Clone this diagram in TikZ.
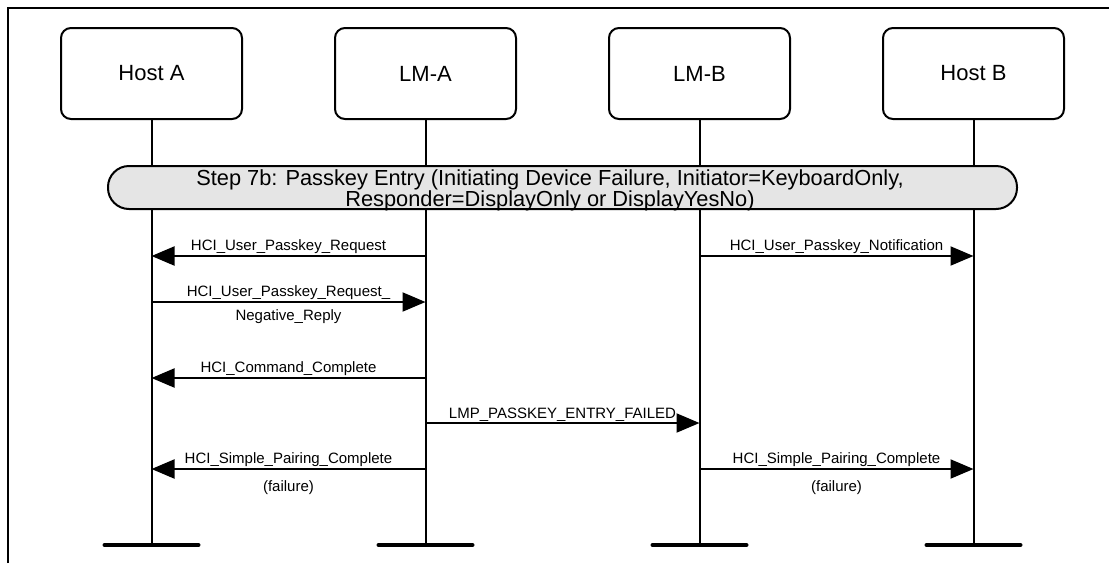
\documentclass[tikz,border=0pt]{standalone}
\usepackage{fontspec}
\setmainfont{Liberation Sans}
\usetikzlibrary{arrows.meta, positioning}

\begin{document}
\begin{tikzpicture}[
  x=1pt, y=-1pt,
  node distance=1cm and 91pt,
  box/.style={rectangle, draw=black, line width=2pt, rounded corners=10pt, minimum width=181pt, minimum height=91pt, font=\fontsize{22}{26}\selectfont},
  banner/.style={rectangle, draw=black, line width=2pt, fill=black!10, rounded corners=21pt, minimum width=909pt, minimum height=43pt},
  lifeline/.style={line width=2pt},
  bar/.style={line width=4pt, line cap=round},
  msg/.style={line width=2pt, -{Triangle[length=23pt,width=19pt]}},
  lbl/.style={font=\fontsize{15}{18}\selectfont, inner sep=1pt}
]
\useasboundingbox (0,0) rectangle (1109,563);
\draw [line width=2pt] (7.5,563) -- (7.5,7.5) -- (1109,7.5);

\node (hostA) [box] at (151.5,73.5) {Host A};
\node (lmA) [box, right=of hostA] {LM-A};
\node (lmB) [box, right=of lmA] {LM-B};
\node (hostB) [box, right=of lmB] {Host B};

% lifelines and bottom bars
\foreach \n in {hostA, lmA, lmB, hostB} {
  \coordinate (\n-end) at (\n |- 0,545);
  \draw [lifeline] (\n) -- (\n-end);
  \draw [bar] ([xshift=-47pt]\n-end) -- ([xshift=47pt]\n-end);
}

\node (step) [banner] at (562.5,187.5) {};
\node (steptext) [font=\fontsize{21.8}{20}\selectfont, align=center, inner sep=0pt] at (550,190.5) {Step 7b: Passkey Entry (Initiating Device Failure, Initiator=KeyboardOnly,\\ Responder=DisplayOnly or DisplayYesNo)};

% messages
\draw [msg] (lmA |- 0,256) -- node[lbl, above] {HCI\_User\_Passkey\_Request} (hostA |- 0,256);
\draw [msg] (lmB |- 0,256) -- node[lbl, above] {HCI\_User\_Passkey\_Notification} (hostB |- 0,256);
\draw [msg] (hostA |- 0,302) -- node[lbl, above] {HCI\_User\_Passkey\_Request\_} node[lbl, below=6pt] {Negative\_Reply} (lmA |- 0,302);
\draw [msg] (lmA |- 0,378) -- node[lbl, above] {HCI\_Command\_Complete} (hostA |- 0,378);
\draw [msg] (lmA |- 0,423) -- node[lbl, above] {LMP\_PASSKEY\_ENTRY\_FAILED} (lmB |- 0,423);
\draw [msg] (lmA |- 0,469) -- node[lbl, above] {HCI\_Simple\_Pairing\_Complete} node[lbl, below=10pt] {(failure)} (hostA |- 0,469);
\draw [msg] (lmB |- 0,469) -- node[lbl, above] {HCI\_Simple\_Pairing\_Complete} node[lbl, below=10pt] {(failure)} (hostB |- 0,469);
\end{tikzpicture}
\end{document}
